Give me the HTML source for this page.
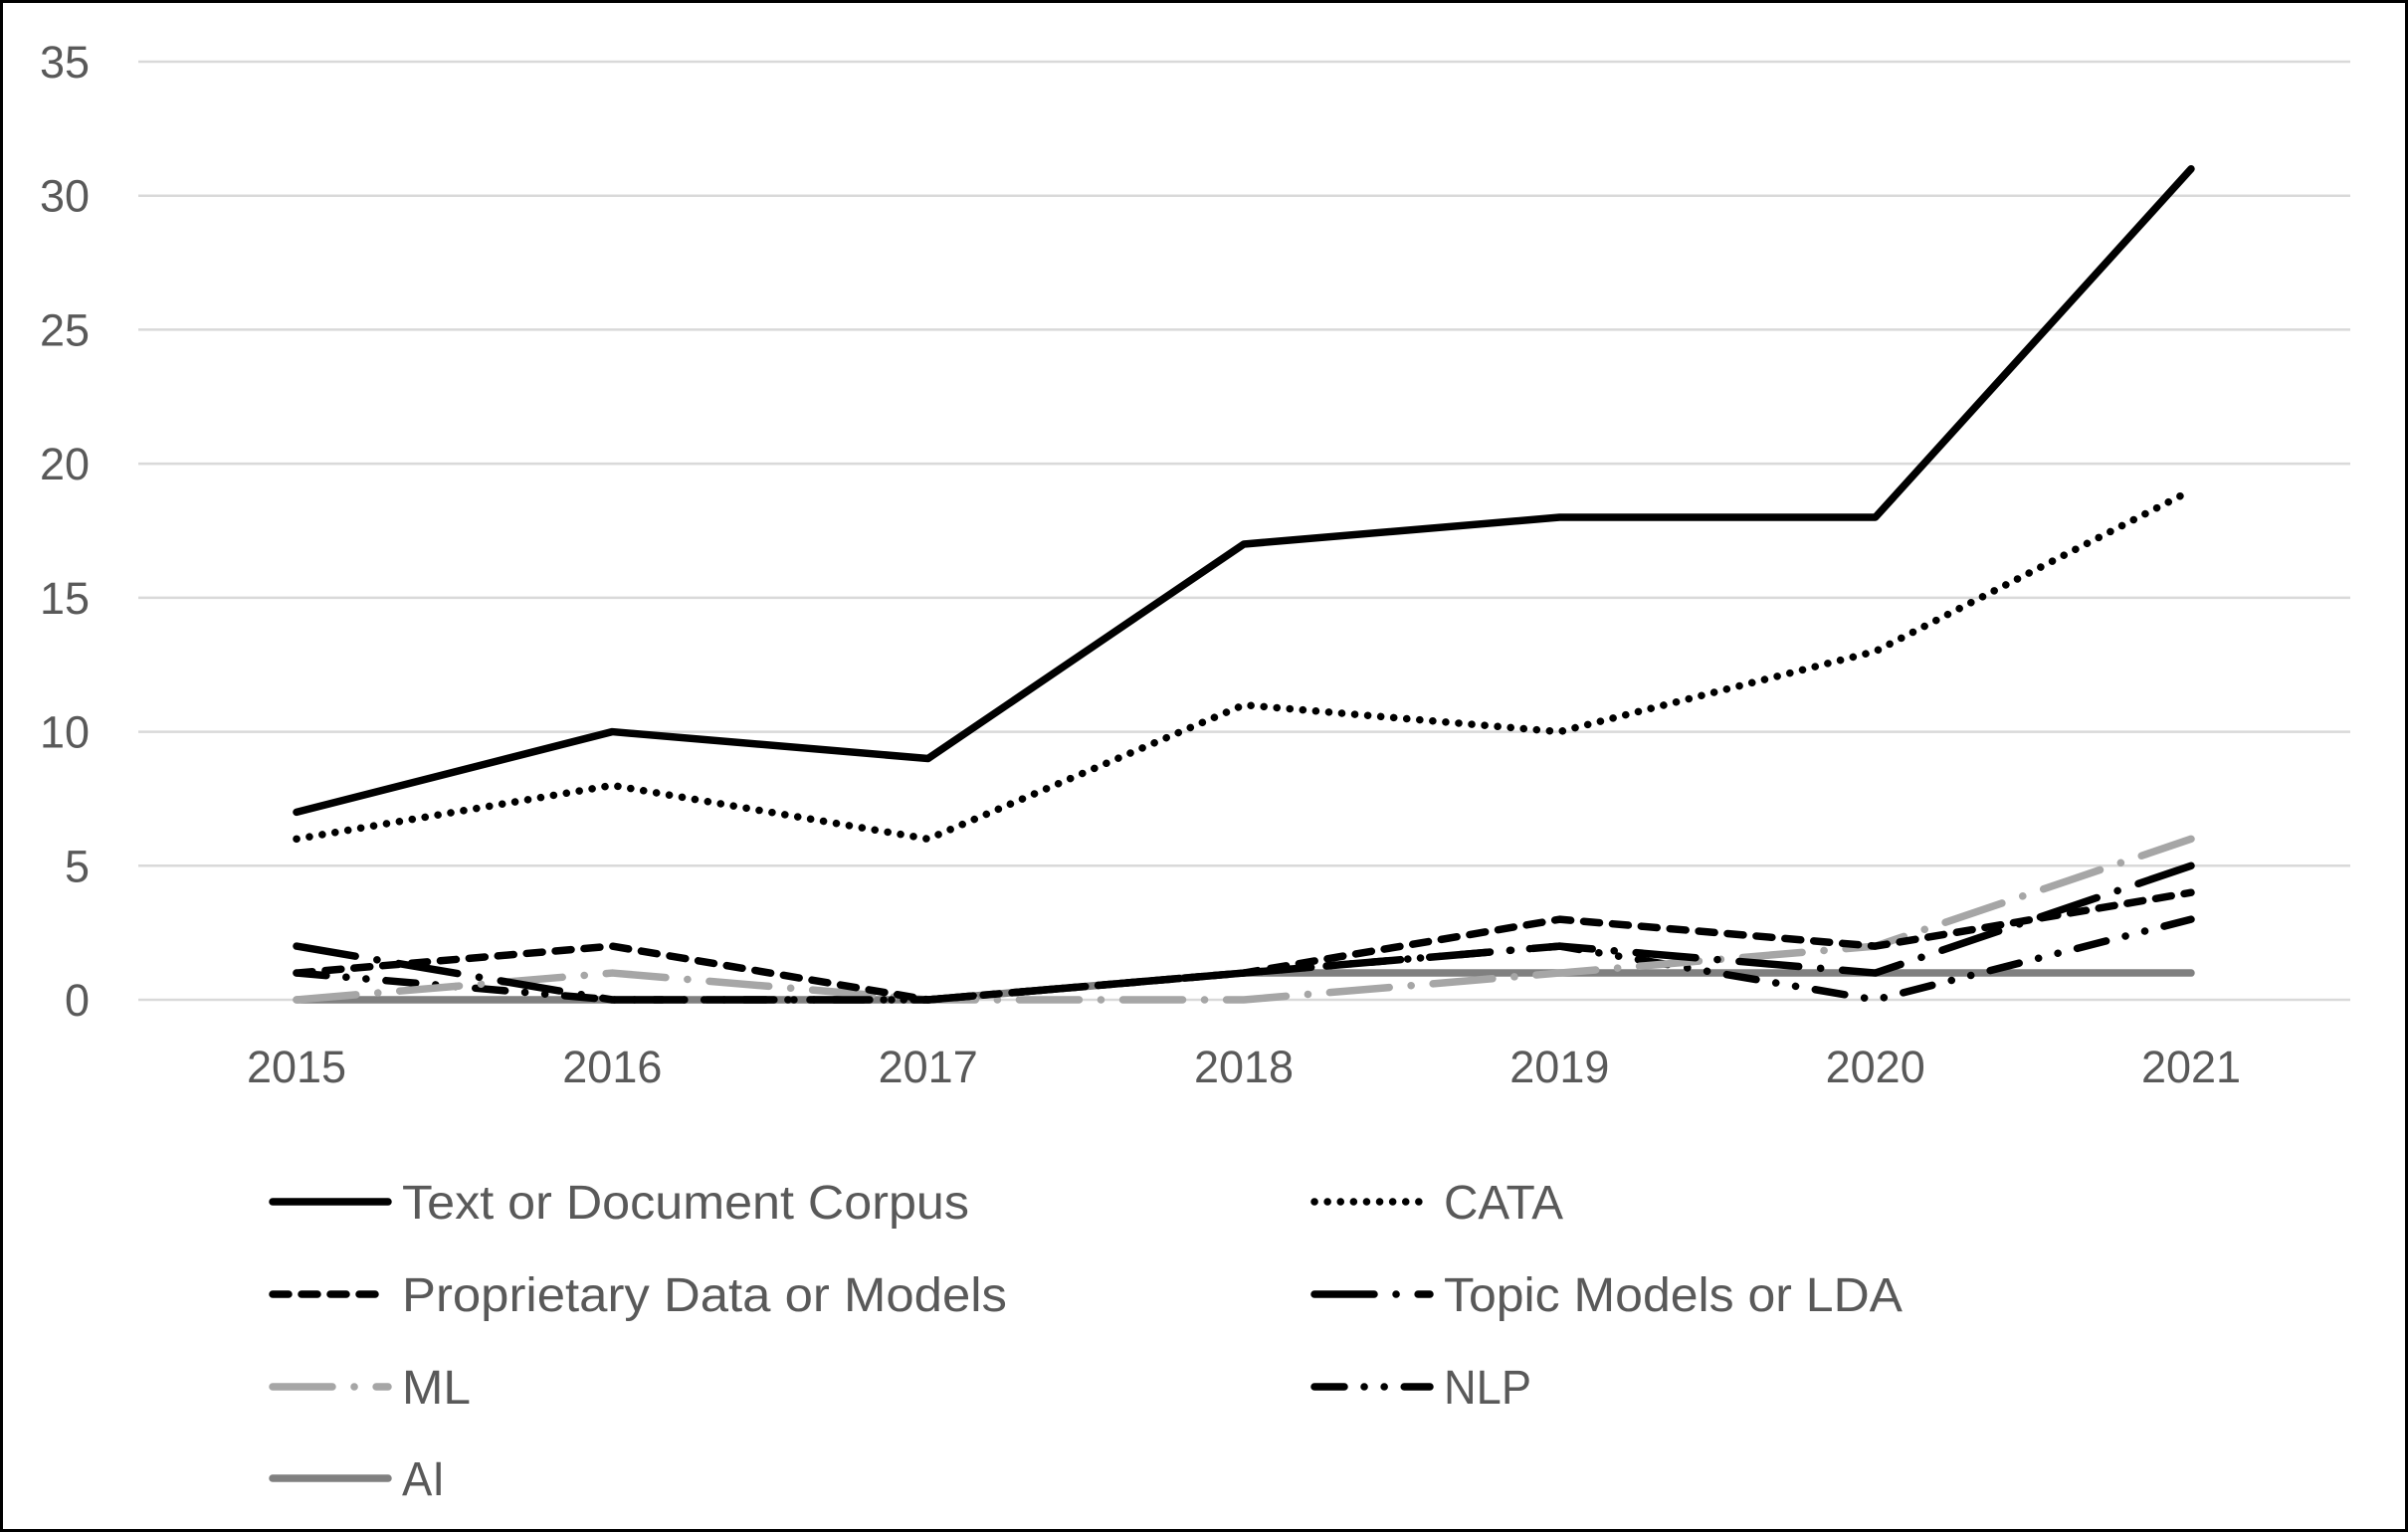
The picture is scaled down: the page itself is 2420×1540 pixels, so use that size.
<!DOCTYPE html>
<html><head><meta charset="utf-8"><style>
html,body{margin:0;padding:0;background:#fff}
svg{display:block}
text{font-family:"Liberation Sans",sans-serif;fill:#595959}
</style></head><body>
<svg id="chart" width="2420" height="1540" viewBox="0 0 2420 1540" xmlns="http://www.w3.org/2000/svg">
<rect x="1.5" y="1.5" width="2417" height="1537" fill="#fff" stroke="#000" stroke-width="3"/>
<g id="grid"></g><g id="ylabels"></g><g id="xlabels"></g><g id="series"></g><g id="legend"></g>
</svg>
<script>
const years = ["2015","2016","2017","2018","2019","2020","2021"];
const yTicks = [0,5,10,15,20,25,30,35];
const textCorpus = [7,10,9,17,18,18,31];
const cata = [6,8,6,11,10,13,19];
const proprietary = [1,2,0,1,3,2,4];
const topicModels = [2,0,0,1,2,1,5];
const ml = [0,1,0,0,1,2,6];
const nlp = [1,0,0,1,2,0,3];
const ai = [0,0,0,1,1,1,1];
const seriesNames = ["Text or Document Corpus","CATA","Proprietary Data or Models","Topic Models or LDA","ML","NLP","AI"];

const NS = "http://www.w3.org/2000/svg";
const x = i => 298 + i * (2202 - 298) / 6;
const y = v => 1005 - v * (1005 - 62) / 35;
function mk(tag, attrs, parent) { const e = document.createElementNS(NS, tag); for (const k in attrs) e.setAttribute(k, attrs[k]); parent.appendChild(e); return e; }

const grid = document.getElementById('grid'), yl = document.getElementById('ylabels'), xl = document.getElementById('xlabels');
yTicks.forEach(t => {
  const l = mk('line', {x1:139, x2:2362, y1:y(t), y2:y(t), stroke:'#d9d9d9', 'stroke-width':2.5}, grid);
  
  
  const tx = mk('text', {x:90, y:y(t)+16, 'text-anchor':'end', 'font-size':45}, yl);
  tx.textContent = t;
  
  
});
years.forEach((yr, i) => {
  const tx = mk('text', {x:x(i), y:1088, 'text-anchor':'middle', 'font-size':45}, xl);
  tx.textContent = yr;
  
  
});

const styles = [
  {data:textCorpus, color:'#000', dash:''},
  {data:cata, color:'#000', dash:'0.1 13'},
  {data:proprietary, color:'#000', dash:'16 13'},
  {data:topicModels, color:'#000', dash:'60 22 0.1 22'},
  {data:ml, color:'#a6a6a6', dash:'60 22 0.1 22'},
  {data:nlp, color:'#000', dash:'30 20 0.1 20 0.1 20'},
  {data:ai, color:'#808080', dash:''}
];
const sg = document.getElementById('series');
styles.slice().reverse().forEach((s) => {
  const idx = styles.indexOf(s);
  const pts = s.data.map((v, i) => x(i) + ',' + y(v)).join(' ');
  const p = mk('polyline', {points:pts, fill:'none', stroke:s.color, 'stroke-width':7.5, 'stroke-linecap':'round', 'stroke-linejoin':'round'}, sg);
  if (s.dash) p.setAttribute('stroke-dasharray', s.dash);
  
  
});

const lg = document.getElementById('legend');
const lpos = [[270,1208],[1317,1208],[270,1301],[1317,1301],[270,1394],[1317,1394],[270,1486]];
const tlen = [570,120,608,461,69,88,43];
styles.forEach((s, i) => {
  const [lx, ly] = lpos[i];
  const g = mk('g', {}, lg);
  
  
  const l = mk('line', {x1:lx+4, x2:lx+120, y1:ly, y2:ly, stroke:s.color, 'stroke-width':7.5, 'stroke-linecap':'round'}, g);
  if (s.dash) l.setAttribute('stroke-dasharray', s.dash);
  const t = mk('text', {x:lx+134, y:ly+17, 'font-size':48, textLength:tlen[i], lengthAdjust:'spacingAndGlyphs'}, g);
  t.textContent = seriesNames[i];
});
</script>
</body></html>
